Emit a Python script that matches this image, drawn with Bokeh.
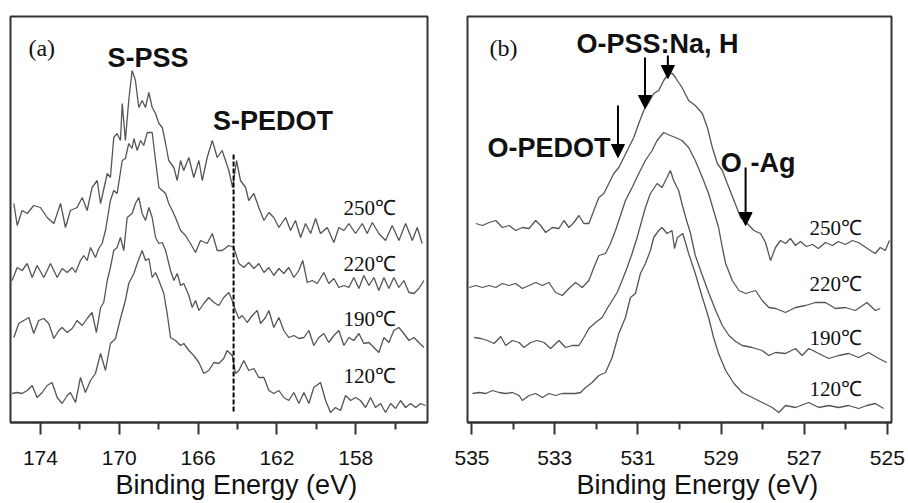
from bokeh.plotting import figure
from bokeh.layouts import row
from bokeh.models import Range1d, FixedTicker, Label, Arrow, NormalHead, Title
from bokeh.embed import file_html
from bokeh.resources import INLINE

# ---------------- Panel (a): S 2p, (binding energy eV, intensity a.u. with offset)
a250 = [(175.35,219),(175.18,197),(174.93,212),(174.67,209),(174.34,217),(174.00,215),(173.66,205),(173.32,199),
        (172.98,219),(172.73,195),(172.48,212),(172.14,215),(171.88,225),(171.63,212),(171.38,235),(171.12,242),
        (170.95,219),(170.61,249),(170.45,245),(170.28,285),(170.11,289),(169.94,282),(169.85,319),(169.69,282),
        (169.52,322),(169.35,352),(169.18,342),(169.01,315),(168.84,322),(168.67,315),(168.50,330),(168.33,315),
        (168.16,309),(167.99,299),(167.82,295),(167.65,279),(167.49,262),(167.23,255),(167.06,242),(166.89,262),
        (166.73,252),(166.47,265),(166.22,245),(165.96,262),(165.79,242),(165.54,265),(165.28,282),(165.03,265),
        (164.78,272),(164.61,262),(164.44,252),(164.25,235),(164.05,262),(163.85,242),(163.59,235),(163.43,222),
        (163.17,229),(162.92,215),(162.66,202),(162.41,210),(162.16,205),(161.90,195),(161.56,205),(161.31,192),
        (161.06,202),(160.80,185),(160.55,199),(160.29,189),(160.04,204),(159.79,189),(159.45,195),(159.11,180),
        (158.86,195),(158.60,192),(158.35,199),(158.01,189),(157.67,199),(157.42,189),(157.16,200),(156.83,189),
        (156.49,182),(156.15,197),(155.81,182),(155.47,199),(155.13,182),(154.88,195),(154.63,179)]
a220 = [(175.44,142),(175.18,155),(174.93,152),(174.67,159),(174.42,145),(174.17,157),(173.83,145),(173.49,159),
        (173.15,145),(172.90,154),(172.64,150),(172.39,155),(172.22,150),(171.97,162),(171.80,167),(171.63,162),
        (171.46,175),(171.21,165),(171.04,174),(170.87,179),(170.70,192),(170.45,222),(170.28,232),(170.11,229),
        (169.85,262),(169.69,264),(169.52,279),(169.35,274),(169.26,284),(169.09,272),(168.92,282),(168.76,277),
        (168.58,290),(168.33,290),(168.16,262),(167.99,235),(167.82,232),(167.65,229),(167.49,219),(167.31,212),
        (167.15,205),(166.89,192),(166.64,187),(166.39,179),(166.13,170),(165.88,182),(165.54,179),(165.28,189),
        (165.03,172),(164.78,172),(164.44,177),(164.19,175),(163.93,159),(163.68,155),(163.43,160),(163.17,154),
        (162.92,159),(162.66,150),(162.41,155),(162.16,147),(161.90,154),(161.65,149),(161.40,155),(161.14,145),
        (160.89,152),(160.69,162),(160.46,140),(160.21,142),(159.95,139),(159.62,150),(159.37,139),(159.11,144),
        (158.86,135),(158.60,137),(158.35,135),(158.10,145),(157.84,134),(157.59,147),(157.33,137),(157.08,145),
        (156.83,132),(156.57,145),(156.32,134),(156.07,145),(155.81,135),(155.56,142),(155.30,130),(155.05,129),
        (154.80,134),(154.54,142)]
a190 = [(175.35,85),(175.10,99),(174.85,102),(174.59,105),(174.34,89),(174.09,102),(173.83,104),(173.58,99),
        (173.32,84),(173.07,92),(172.90,95),(172.64,90),(172.39,94),(172.14,102),(171.88,97),(171.63,104),
        (171.38,110),(171.16,90),(170.95,115),(170.79,120),(170.61,142),(170.45,155),(170.28,172),(170.11,175),
        (169.94,185),(169.77,172),(169.60,205),(169.35,209),(169.18,219),(169.01,225),(168.84,209),(168.67,202),
        (168.50,215),(168.33,205),(168.16,185),(167.99,179),(167.82,180),(167.65,172),(167.40,152),(167.23,142),
        (167.06,149),(166.89,137),(166.73,139),(166.47,127),(166.30,115),(166.13,122),(165.96,112),(165.71,119),
        (165.46,125),(165.20,120),(164.95,117),(164.70,125),(164.44,130),(164.27,122),(164.10,112),(163.93,104),
        (163.76,107),(163.51,100),(163.25,107),(163.00,112),(162.83,99),(162.58,105),(162.41,112),(162.16,95),
        (161.90,105),(161.65,92),(161.40,85),(161.14,87),(160.89,84),(160.63,85),(160.38,92),(160.13,77),
        (159.87,85),(159.62,89),(159.37,80),(159.11,87),(158.86,92),(158.60,77),(158.35,85),(158.10,82),
        (157.84,89),(157.59,79),(157.33,80),(157.08,75),(156.83,70),(156.57,85),(156.32,80),(156.07,92),
        (155.81,95),(155.56,89),(155.30,82),(155.05,85),(154.80,80),(154.54,75)]
a120 = [(175.44,29),(175.18,30),(174.93,29),(174.67,32),(174.42,37),(174.17,25),(173.91,30),(173.66,37),
        (173.41,40),(173.15,25),(172.90,19),(172.64,27),(172.48,30),(172.22,20),(171.97,45),(171.72,30),
        (171.46,42),(171.21,49),(170.95,69),(170.70,52),(170.45,79),(170.19,84),(169.94,104),(169.69,122),
        (169.52,139),(169.26,149),(169.09,159),(168.84,172),(168.67,162),(168.50,164),(168.33,145),(168.16,150),
        (167.99,142),(167.74,129),(167.57,109),(167.40,85),(167.15,82),(166.89,77),(166.73,79),(166.47,72),
        (166.22,67),(165.96,60),(165.71,49),(165.46,52),(165.20,60),(164.95,59),(164.70,64),(164.53,72),
        (164.27,67),(164.10,49),(163.93,52),(163.68,62),(163.43,52),(163.17,54),(162.92,45),(162.66,45),
        (162.41,32),(162.16,29),(161.90,32),(161.65,25),(161.40,22),(161.14,30),(160.89,19),(160.63,30),
        (160.38,19),(160.13,35),(159.79,40),(159.53,22),(159.28,10),(159.03,15),(158.77,12),(158.52,27),
        (158.26,22),(158.01,25),(157.76,22),(157.50,15),(157.25,25),(157.00,15),(156.74,19),(156.49,10),
        (156.23,19),(155.98,14),(155.73,22),(155.47,15),(155.22,19),(154.96,15),(154.71,19),(154.46,17)]

# ---------------- Panel (b): O 1s
b250 = [(534.90,199),(534.74,197),(534.58,200),(534.42,202),(534.26,195),(534.10,197),(533.94,192),(533.78,195),
        (533.62,194),(533.46,202),(533.34,197),(533.22,190),(533.06,195),(532.90,194),(532.78,202),(532.66,195),
        (532.54,200),(532.42,207),(532.30,199),(532.18,199),(532.06,212),(531.94,225),(531.82,229),(531.70,239),
        (531.58,249),(531.46,255),(531.34,265),(531.22,275),(531.10,285),(530.98,299),(530.86,312),(530.74,320),
        (530.62,329),(530.50,332),(530.38,342),(530.26,349),(530.17,349),(530.10,345),(529.94,335),(529.78,322),
        (529.62,317),(529.45,309),(529.33,295),(529.21,275),(529.09,259),(528.97,252),(528.85,239),(528.69,222),
        (528.53,205),(528.37,199),(528.21,192),(528.05,189),(527.93,180),(527.81,162),(527.69,175),(527.57,182),
        (527.45,179),(527.33,184),(527.21,177),(527.09,181),(526.95,176),(526.80,178),(526.66,174),(526.49,180),
        (526.32,177),(526.18,181),(526.01,178),(525.84,182),(525.70,180),(525.55,176),(525.41,172),(525.29,169),
        (525.17,175),(525.05,172),(524.95,182)]
b220 = [(535.06,135),(534.90,137),(534.74,135),(534.58,137),(534.42,135),(534.26,139),(534.10,137),(533.94,139),
        (533.78,134),(533.62,137),(533.46,140),(533.30,137),(533.14,140),(532.98,130),(532.82,127),(532.66,134),
        (532.50,140),(532.34,135),(532.18,142),(532.06,155),(531.94,167),(531.78,169),(531.66,179),(531.54,192),
        (531.46,202),(531.30,222),(531.14,235),(530.98,249),(530.82,262),(530.66,272),(530.54,282),(530.38,290),
        (530.22,287),(530.10,285),(529.94,282),(529.78,275),(529.62,262),(529.45,245),(529.30,229),(529.18,212),
        (529.06,195),(528.97,175),(528.89,159),(528.73,142),(528.57,132),(528.41,129),(528.17,132),(528.01,122),
        (527.85,115),(527.69,114),(527.45,110),(527.21,115),(526.97,117),(526.73,120),(526.49,120),(526.25,114),
        (526.01,115),(525.77,112),(525.49,120),(525.29,112),(525.17,114)]
b190 = [(534.94,85),(534.78,84),(534.62,82),(534.46,79),(534.30,86),(534.18,77),(534.02,82),(533.86,80),
        (533.74,75),(533.58,80),(533.42,82),(533.26,80),(533.10,74),(532.90,82),(532.74,75),(532.58,77),
        (532.42,77),(532.30,85),(532.18,94),(532.02,100),(531.86,105),(531.74,114),(531.62,122),(531.50,130),
        (531.38,142),(531.26,155),(531.14,169),(531.02,185),(530.94,197),(530.82,215),(530.70,229),(530.54,239),
        (530.42,235),(530.30,245),(530.22,252),(530.14,242),(530.02,232),(529.93,217),(529.83,202),(529.74,190),
        (529.62,167),(529.45,147),(529.30,130),(529.13,112),(528.97,97),(528.81,87),(528.65,81),(528.49,77),
        (528.25,75),(528.01,72),(527.85,67),(527.69,70),(527.45,69),(527.21,74),(527.05,67),(526.89,74),
        (526.65,69),(526.41,64),(526.17,67),(525.93,69),(525.69,65),(525.45,70),(525.21,64),(525.01,60)]
b120 = [(534.98,29),(534.82,30),(534.66,29),(534.50,32),(534.34,30),(534.18,29),(534.02,30),(533.86,27),
        (533.78,22),(533.62,27),(533.46,29),(533.30,25),(533.14,29),(532.98,27),(532.82,29),(532.66,29),
        (532.50,29),(532.38,30),(532.26,35),(532.10,40),(531.94,47),(531.78,50),(531.62,65),(531.46,89),
        (531.30,105),(531.18,125),(531.06,129),(530.94,149),(530.82,159),(530.70,172),(530.62,185),(530.50,192),
        (530.42,195),(530.30,189),(530.18,192),(530.12,174),(530.05,185),(529.92,189),(529.78,169),(529.62,149),
        (529.45,125),(529.30,105),(529.18,85),(529.06,69),(528.89,52),(528.69,39),(528.49,30),(528.25,25),
        (528.01,20),(527.77,15),(527.61,10),(527.45,17),(527.21,15),(526.89,20),(526.65,15),(526.41,17),
        (526.17,15),(525.93,17),(525.69,14),(525.49,17),(525.29,19),(525.09,14)]

a_ticks = [174, 170, 166, 162, 158]
a_minor = [176, 172, 168, 164, 160, 156]
b_ticks = [535, 533, 531, 529, 527, 525]
b_minor = [534, 532, 530, 528, 526]
temps = ["250\u2103", "220\u2103", "190\u2103", "120\u2103"]
pedot_line_e = 164.2

SANS = "Liberation Sans"
SERIF = "Liberation Serif"
CURVE = "#555555"


def make_fig(xs, xe, bl, br, majors, minors, title_offset):
    p = figure(width=454, height=503, x_range=Range1d(xs, xe), y_range=Range1d(0, 406),
               output_backend="svg", toolbar_location=None, y_axis_location=None,
               min_border_left=bl, min_border_right=br, min_border_top=16, min_border_bottom=81)
    p.xgrid.visible = False
    p.ygrid.visible = False
    p.outline_line_color = "#333333"
    p.outline_line_width = 2
    p.background_fill_color = "white"
    p.border_fill_color = "white"
    ax = p.xaxis[0]
    ax.ticker = FixedTicker(ticks=majors, minor_ticks=minors)
    ax.major_tick_in = 0
    ax.major_tick_out = 12
    ax.minor_tick_in = 0
    ax.minor_tick_out = 7
    ax.major_tick_line_width = 2
    ax.minor_tick_line_width = 2
    ax.major_tick_line_color = "#333333"
    ax.minor_tick_line_color = "#333333"
    ax.axis_line_width = 2
    ax.axis_line_color = "#333333"
    ax.major_label_text_font = SANS
    ax.major_label_text_font_size = "21px"
    ax.major_label_text_color = "#111111"
    ax.major_label_standoff = 16
    t = Title(text="Binding Energy (eV)", align="left", offset=title_offset,
              text_font=SANS, text_font_size="27px", text_font_style="normal",
              text_color="#111111", standoff=0)
    p.add_layout(t, "below")
    return p


def curve(p, data):
    xs = [d[0] for d in data]
    ys = [d[1] for d in data]
    p.line(xs, ys, line_color=CURVE, line_width=1.3)


def lab(p, x, y, text, font, size, bold=False):
    p.add_layout(Label(x=x, y=y, text=text, text_font=font, text_font_size=size,
                       text_font_style="bold" if bold else "normal", text_color="#111111",
                       text_baseline="middle", text_align="left"))


def arrow(p, x, y0, y1):
    p.add_layout(Arrow(end=NormalHead(size=13, fill_color="black", line_color="black"),
                       x_start=x, y_start=y0, x_end=x, y_end=y1,
                       line_color="black", line_width=2))


pa = make_fig(175.52, 154.36, 10, 27, a_ticks, a_minor, 105)
for d in (a250, a220, a190, a120):
    curve(pa, d)
pa.segment(x0=[pedot_line_e], y0=[268], x1=[pedot_line_e], y1=[10],
           line_color="black", line_width=2, line_dash="5 2")
lab(pa, 174.61, 375, "(a)", SERIF, "24px")
lab(pa, 170.60, 365, "S-PSS", SANS, "27px", True)
lab(pa, 165.25, 302, "S-PEDOT", SANS, "27px", True)
for t, yy in zip(temps, [215, 159, 104, 47]):
    lab(pa, 158.62, yy, t, SERIF, "21px")

pb = make_fig(535.10, 524.90, 13, 17, b_ticks, b_minor, 109)
for d in (b250, b220, b190, b120):
    curve(pb, d)
lab(pb, 534.57, 375, "(b)", SERIF, "24px")
lab(pb, 532.48, 379, "O-PSS:Na, H", SANS, "27px", True)
lab(pb, 534.62, 275, "O-PEDOT", SANS, "27px", True)
lab(pb, 529.01, 260, "O", SANS, "27px", True)
lab(pb, 528.29, 260, "-Ag", SANS, "27px", True)
arrow(pb, 531.48, 317, 265)
arrow(pb, 530.83, 365, 314)
arrow(pb, 530.28, 367, 344)
arrow(pb, 528.41, 255, 197)
for t, yy in zip(temps, [195, 139, 85, 34]):
    lab(pb, 526.87, yy, t, SERIF, "21px")

layout = row(pa, pb)
open("out.html", "w").write(file_html(layout, INLINE))
